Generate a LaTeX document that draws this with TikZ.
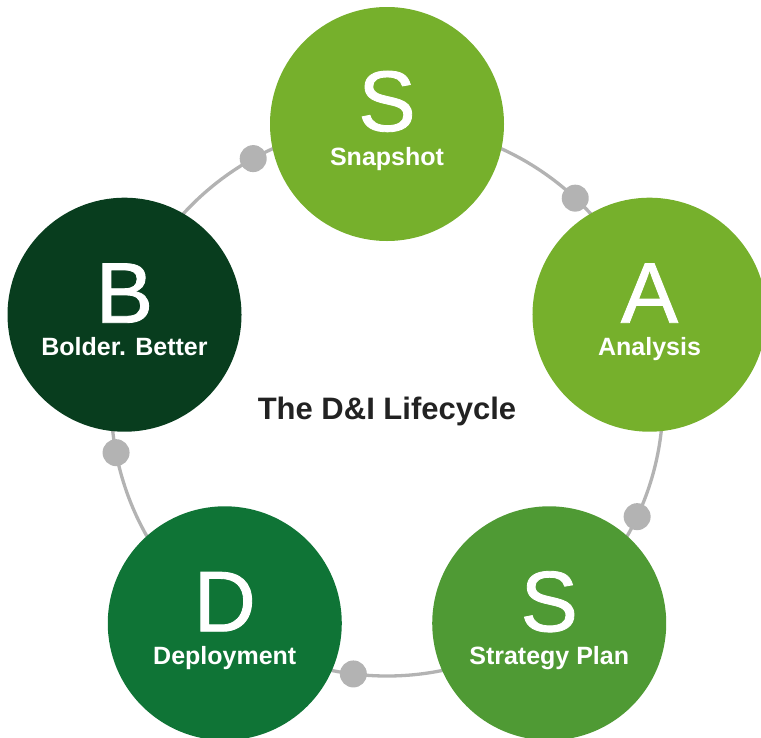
\documentclass[tikz,border=0pt]{standalone}
\usepackage{fontspec}
\setmainfont{Liberation Sans}
\newfontfamily\bigletterfont[FakeBold=1]{Liberation Sans}
\usetikzlibrary{calc}
\definecolor{lightgreen}{HTML}{76B02C}
\definecolor{midgreen}{HTML}{4F9A34}
\definecolor{deepgreen}{HTML}{0F7436}
\definecolor{darkgreen}{HTML}{083D1E}
\definecolor{ringgray}{HTML}{B3B3B3}
\definecolor{titlegray}{HTML}{222222}
\begin{document}
\begin{tikzpicture}[x=1pt,y=-1pt,
  stage/.style={circle,minimum size=234pt,inner sep=0pt},
  ringdot/.style={circle,fill=ringgray,minimum size=27pt,inner sep=0pt},
  bigletter/.style={text=white,font=\bigletterfont\fontsize{86}{86}\selectfont,anchor=base,inner sep=0pt,text depth=0pt},
  steplabel/.style={text=white,font=\bfseries\fontsize{25}{25}\selectfont,anchor=base,inner sep=0pt}]
\useasboundingbox (0,0) rectangle (761,737);
\coordinate (c) at (387,400);
% ring
\draw[ringgray,line width=3.3pt] (c) circle[radius=276pt];
% dots on the ring
\node[ringdot] (d1) at ($(c)+(119:276pt)$) {};
\node[ringdot] (d2) at ($(c)+(47:276pt)$) {};
\node[ringdot] (d3) at ($(c)+(-25:276pt)$) {};
\node[ringdot] (d4) at ($(c)+(-97:276pt)$) {};
\node[ringdot] (d5) at ($(c)+(191:276pt)$) {};
% stage circles
\node[stage,fill=lightgreen] (snap) at ($(c)+(90:276pt)$) {};
\node[stage,fill=lightgreen] (anal) at ($(c)+(18:276pt)$) {};
\node[stage,fill=midgreen] (strat) at ($(c)+(-54:276pt)$) {};
\node[stage,fill=deepgreen] (depl) at ($(c)+(-126:276pt)$) {};
\node[stage,fill=darkgreen] (bold) at ($(c)+(162:276pt)$) {};
% letters
\node[bigletter] (snapL) at ([yshift=-7pt]snap.center) {S};
\node[bigletter] (analL) at ([yshift=-8pt]anal.center) {A};
\node[bigletter] (stratL) at ([yshift=-8pt]strat.center) {S};
\node[bigletter] (deplL) at ([yshift=-8pt]depl.center) {D};
\node[bigletter] (boldL) at ([yshift=-8pt]bold.center) {B};
% labels
\node[steplabel] (snapT) at ([yshift=-41pt]snap.center) {Snapshot};
\node[steplabel] (analT) at ([yshift=-41pt]anal.center) {Analysis};
\node[steplabel] (stratT) at ([yshift=-41pt]strat.center) {Strategy Plan};
\node[steplabel] (deplT) at ([yshift=-41pt]depl.center) {Deployment};
\node[steplabel] (boldT) at ([yshift=-41pt]bold.center) {Bolder. Better};
% title
\node[anchor=base,inner sep=0pt,text=titlegray,font=\bfseries\fontsize{31}{31}\selectfont] (title) at (387,419) {The D\&I Lifecycle};
\end{tikzpicture}
\end{document}
